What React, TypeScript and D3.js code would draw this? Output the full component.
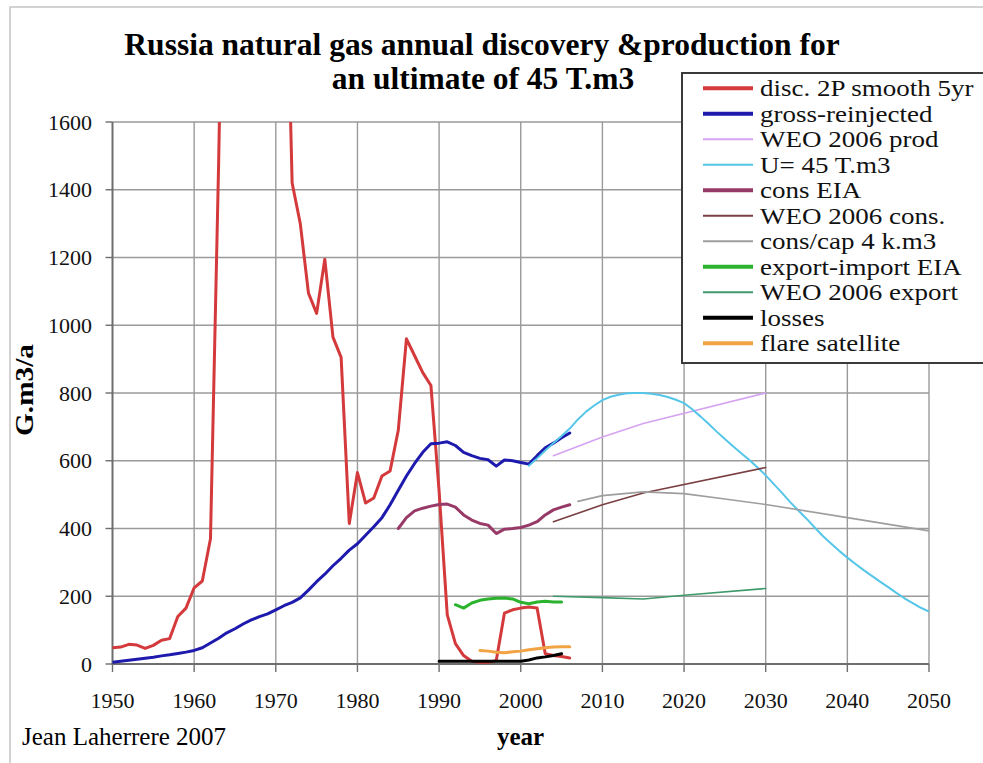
import * as d3 from "d3";

// annual series, each starts at a given year
const discStart = 1950;
const discValues = [
  48, 50, 58, 56, 46, 55, 70, 75, 140, 165, 225, 245, 370, 1480, 2800, 3200,
  3500, 3400, 3300, 3000, 2800, 2400, 1420, 1300, 1095, 1035, 1195, 965, 905,
  415, 565, 475, 490, 555, 570, 690, 960, 910, 860, 822, 510, 145, 60, 25, 8,
  5, 5, 10, 150, 160, 165, 168, 165, 30, 25, 22, 18,
];

const grossStart = 1950;
const grossValues = [
  5, 8, 11, 14, 17, 20, 24, 27, 31, 35, 40, 48, 62, 76, 92, 104, 118, 130, 140,
  148, 160, 172, 182, 195, 218, 243, 265, 290, 312, 336, 355, 380, 405, 432,
  470, 513, 555, 592, 625, 650, 652, 656, 645, 625, 615, 607, 603, 584, 602,
  600, 595, 590, 615, 638, 652, 668, 682,
];

const consStart = 1985;
const consValues = [
  400, 432, 452, 460, 466, 471, 472, 463, 440, 425, 415, 410, 385, 398, 400,
  403, 410, 420, 440, 455, 463, 470,
];

const exportStart = 1992;
const exportValues = [
  175, 165, 180, 188, 192, 194, 195, 192, 182, 178, 183, 185, 183, 183,
];

const lossesStart = 1990;
const lossesValues = [8, 8, 8, 8, 8, 8, 8, 8, 8, 8, 8, 12, 18, 21, 25, 30];

const flareStart = 1995;
const flareValues = [40, 38, 35, 33, 36, 38, 42, 45, 48, 50, 51, 51];

const uStart = 2001;
const uValues = [
  585, 607, 630, 652, 673, 695, 722, 745, 763, 779, 789, 795, 799, 800, 800,
  798, 794, 788, 780, 770, 752, 731, 709, 686, 664, 643, 622, 602, 580, 557,
  531, 505, 478, 453, 429, 403, 378, 356, 334, 314, 295, 277, 260, 243, 227,
  210, 194, 180, 166, 155,
];

// WEO 2006 scenario points and per-capita consumption
const weoProdYears = [2004, 2010, 2015, 2030];
const weoProdValues = [615, 670, 710, 800];
const weoConsYears = [2004, 2010, 2015, 2030];
const weoConsValues = [420, 470, 505, 580];
const weoExportYears = [2004, 2010, 2015, 2020, 2030];
const weoExportValues = [200, 196, 192, 203, 223];
const consCapYears = [2007, 2010, 2015, 2020, 2025, 2030, 2040, 2050];
const consCapValues = [480, 497, 508, 503, 487, 471, 432, 393];

const xTicks = [1950, 1960, 1970, 1980, 1990, 2000, 2010, 2020, 2030, 2040, 2050];
const yTicks = [0, 200, 400, 600, 800, 1000, 1200, 1400, 1600];

type Pt = [number, number];
const annual = (start: number, vals: number[]): Pt[] =>
  vals.map((v, i) => [start + i, v]);
const paired = (years: number[], vals: number[]): Pt[] =>
  years.map((y, i) => [y, vals[i]]);

const series = [
  { name: "disc. 2P smooth 5yr", color: "#d4393b", w: 3, lw: 4, pts: annual(discStart, discValues) },
  { name: "gross-reinjected", color: "#1d1aad", w: 3, lw: 4, pts: annual(grossStart, grossValues) },
  { name: "WEO 2006 prod", color: "#d6a2f2", w: 1.6, lw: 2, pts: paired(weoProdYears, weoProdValues) },
  { name: "U= 45 T.m3", color: "#55c6e8", w: 2, lw: 2, pts: annual(uStart, uValues) },
  { name: "cons EIA", color: "#983a68", w: 3, lw: 4, pts: annual(consStart, consValues) },
  { name: "WEO 2006 cons.", color: "#7a3f42", w: 1.6, lw: 2, pts: paired(weoConsYears, weoConsValues) },
  { name: "cons/cap 4 k.m3", color: "#9e9e9e", w: 1.6, lw: 2, pts: paired(consCapYears, consCapValues) },
  { name: "export-import EIA", color: "#2bb32e", w: 3, lw: 4, pts: annual(exportStart, exportValues) },
  { name: "WEO 2006 export", color: "#3f9a6c", w: 1.6, lw: 2, pts: paired(weoExportYears, weoExportValues) },
  { name: "losses", color: "#000000", w: 3, lw: 4, pts: annual(lossesStart, lossesValues) },
  { name: "flare satellite", color: "#f2a445", w: 3, lw: 4, pts: annual(flareStart, flareValues) },
];

const W = 983;
const H = 763;
const serif = "'Liberation Serif', 'Times New Roman', serif";

export default function App() {
  const x = d3.scaleLinear().domain([1950, 2050]).range([112.5, 929]);
  const y = d3.scaleLinear().domain([0, 1600]).range([664, 122]);
  const line = d3
    .line<Pt>()
    .x((d) => x(d[0]))
    .y((d) => y(d[1]));

  const legendX = 682;
  const legendY = 73;
  const rowH = 25.5;

  return (
    <svg
      width={W}
      height={H}
      style={{ position: "absolute", left: 0, top: 0, background: "#fff" }}
      fontFamily={serif}
    >
      <defs>
        <clipPath id="plot">
          <rect x={x(1950)} y={y(1600)} width={x(2050) - x(1950)} height={y(0) - y(1600)} />
        </clipPath>
      </defs>
      {/* outer frame */}
      <rect x={10} y={7} width={1000} height={820} fill="none" stroke="#c4c4c4" strokeWidth={1.5} />

      {/* title */}
      <text x={482} y={55} textAnchor="middle" fontWeight="bold" fontSize={31.5}>
        Russia natural gas annual discovery &amp;production for
      </text>
      <text x={483} y={89} textAnchor="middle" fontWeight="bold" fontSize={31.5}>
        an ultimate of 45 T.m3
      </text>

      {/* grid */}
      <g stroke="#9a9a9a" strokeWidth={1.4}>
        {yTicks.slice(1).map((t) => (
          <line key={"gy" + t} x1={x(1950)} x2={x(2050)} y1={y(t)} y2={y(t)} />
        ))}
        {xTicks.slice(1).map((t) => (
          <line key={"gx" + t} x1={x(t)} x2={x(t)} y1={y(0)} y2={y(1600)} />
        ))}
      </g>
      {/* axes */}
      <g stroke="#6e6e6e" strokeWidth={2}>
        <line x1={x(1950)} x2={x(1950)} y1={y(0) + 1} y2={y(1600)} />
        <line x1={x(1950)} x2={x(2050)} y1={y(0)} y2={y(0)} />
        {yTicks.map((t) => (
          <line key={"ty" + t} x1={x(1950) - 7} x2={x(1950)} y1={y(t)} y2={y(t)} strokeWidth={1.4} />
        ))}
        {xTicks.map((t) => (
          <line key={"tx" + t} x1={x(t)} x2={x(t)} y1={y(0)} y2={y(0) + 8} strokeWidth={1.4} />
        ))}
      </g>
      <g fontSize={22} fill="#111">
        {yTicks.map((t) => (
          <text key={"ly" + t} x={92} y={y(t) + 7.5} textAnchor="end">
            {t}
          </text>
        ))}
        {xTicks.map((t) => (
          <text key={"lx" + t} x={x(t)} y={708} textAnchor="middle">
            {t}
          </text>
        ))}
      </g>

      {/* series */}
      <g clipPath="url(#plot)" fill="none" strokeLinejoin="round" strokeLinecap="round">
        {series.map((s) => (
          <path key={s.name} d={line(s.pts) || ""} stroke={s.color} strokeWidth={s.w} />
        ))}
      </g>

      {/* axis titles */}
      <text
        transform={`translate(33, 390) rotate(-90)`}
        textAnchor="middle"
        fontWeight="bold"
        fontSize={25}
        textLength={92}
        lengthAdjust="spacingAndGlyphs"
      >
        G.m3/a
      </text>
      <text x={497} y={745} fontWeight="bold" fontSize={25}>
        year
      </text>
      <text x={22} y={745} fontSize={25}>
        Jean Laherrere 2007
      </text>

      {/* legend */}
      <rect x={legendX} y={legendY} width={330} height={290} fill="#fff" stroke="#3a3a3a" strokeWidth={2} />
      {series.map((s, i) => {
        const ry = 88.3 + i * rowH;
        return (
          <g key={"lg" + s.name}>
            <line x1={703} x2={753} y1={ry} y2={ry} stroke={s.color} strokeWidth={s.lw} />
            <text transform={`translate(760, ${ry + 8}) scale(1.2, 1)`} fontSize={22.5} fill="#111">
              {s.name}
            </text>
          </g>
        );
      })}
    </svg>
  );
}
